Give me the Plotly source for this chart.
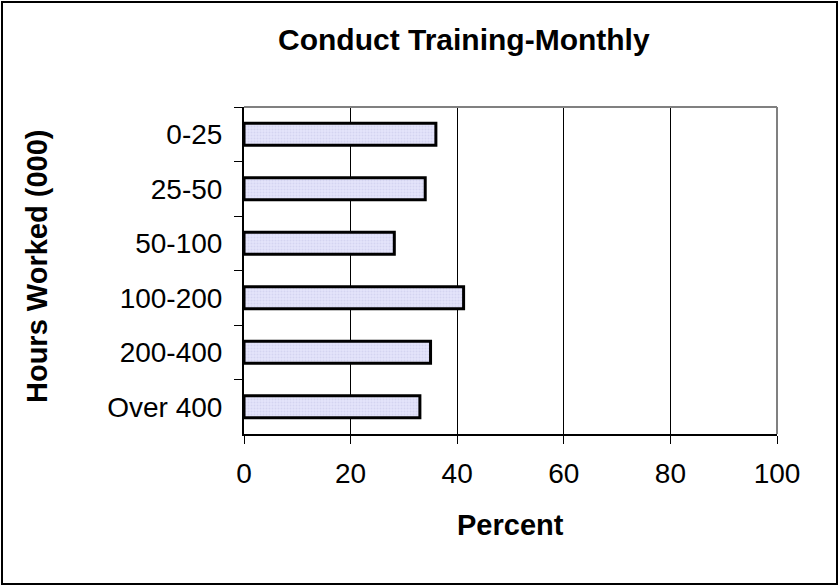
import plotly.graph_objects as go

categories = ["0-25", "25-50", "50-100", "100-200", "200-400", "Over 400"]
percent = [36, 34, 28.2, 41.2, 35, 33]
x_ticks = [0, 20, 40, 60, 80, 100]

font = "Liberation Sans, Arial, sans-serif"

fig = go.Figure()
fig.add_trace(go.Bar(
    x=percent,
    y=categories,
    orientation="h",
    width=0.4,
    marker=dict(
        color="#e4e4fa",
        line=dict(color="black", width=3),
        pattern=dict(shape=".", fgcolor="#c4c4e8", bgcolor="#e4e4fa", size=3, solidity=0.35),
    ),
))

fig.update_layout(
    width=839, height=588,
    paper_bgcolor="white", plot_bgcolor="white",
    margin=dict(l=244, r=62, t=107, b=154),
    showlegend=False,
    font=dict(family=font, color="black", size=28),
    bargap=0.6,
)

fig.update_xaxes(
    range=[0, 100], tickvals=x_ticks, ticks="outside", ticklen=8, tickcolor="black",
    showline=True, linecolor="black", linewidth=2,
    showgrid=True, gridcolor="black", gridwidth=1,
    zeroline=False, tickfont=dict(size=28), ticklabelstandoff=5,
)
fig.update_yaxes(
    categoryorder="array", categoryarray=categories, autorange="reversed",
    ticks="outside", ticklen=8, tickcolor="black", tickson="boundaries",
    showline=True, linecolor="black", linewidth=2,
    showgrid=False, tickfont=dict(size=28), ticklabelstandoff=14,
)

# gray plot-area border on top and right
fig.add_shape(type="line", xref="paper", yref="paper", x0=0, x1=1, y0=1, y1=1,
              line=dict(color="#808080", width=2))
fig.add_shape(type="line", xref="paper", yref="paper", x0=1, x1=1, y0=0, y1=1,
              line=dict(color="#808080", width=2))
# outer chart border
fig.add_shape(type="rect", xref="paper", yref="paper",
              x0=-242 / 533, x1=1 + 60 / 533, y0=-150 / 327, y1=1 + 105 / 327,
              line=dict(color="black", width=2))

fig.add_annotation(text="<b>Conduct Training-Monthly</b>", xref="paper", yref="paper",
                   x=(464 - 244) / 533, y=1 + 67 / 327, showarrow=False,
                   font=dict(size=30), xanchor="center", yanchor="middle")
fig.add_annotation(text="<b>Percent</b>", xref="paper", yref="paper",
                   x=(510 - 244) / 533, y=-91 / 327, showarrow=False,
                   font=dict(size=29), xanchor="center", yanchor="middle")
fig.add_annotation(text="<b>Hours Worked (000)</b>", xref="paper", yref="paper",
                   x=(37 - 244) / 533, y=(434 - 267) / 327, showarrow=False, textangle=-90,
                   font=dict(size=29), xanchor="center", yanchor="middle")

fig.write_html("out.html", config={"displayModeBar": False},
               post_script="document.body.style.margin='0';")
